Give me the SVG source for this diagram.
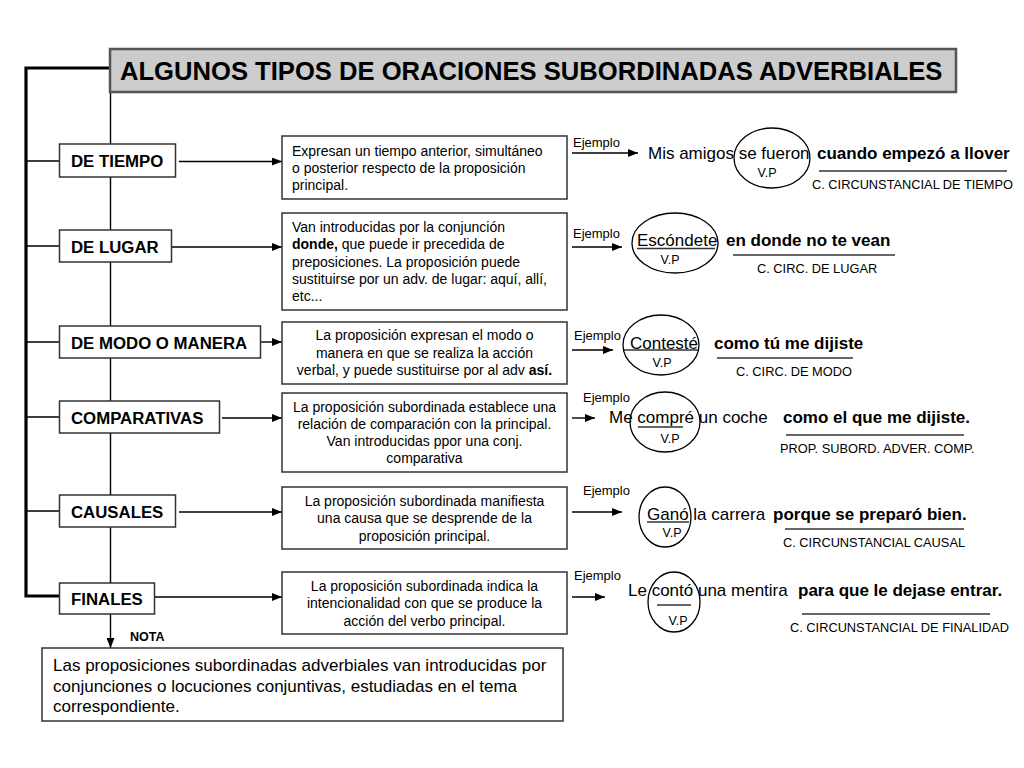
<svg xmlns="http://www.w3.org/2000/svg" width="1024" height="768" viewBox="0 0 1024 768">
<defs>
<marker id="arr" markerUnits="userSpaceOnUse" markerWidth="10" markerHeight="8" refX="10" refY="4" orient="auto">
<path d="M0,0 L10,4 L0,8 z" fill="#000"/>
</marker>
<style>
text{font-family:"Liberation Sans",Arial,sans-serif;fill:#000}
.box{fill:#fff;stroke:#333;stroke-width:1.5}
.cat{font-size:16.8px;font-weight:bold}
.desc{font-size:14px}
.c{text-anchor:middle}
.ej{font-size:13px}
.ex{font-size:17px}
.b{font-weight:bold}
.lab{font-size:12.8px}
.vp{font-size:12.5px;text-anchor:middle}
.ln{stroke:#000;stroke-width:1.4;fill:none}
.ul{stroke:#333;stroke-width:1.3;fill:none}
.ell{fill:none;stroke:#000;stroke-width:1.3}
</style>
</defs>
<rect width="1024" height="768" fill="#fff"/>

<g id="connectors">
<path d="M110,68 H26 V596 H60" fill="none" stroke="#000" stroke-width="3.2"/>
<path class="ln" d="M26,161 H60 M26,246 H60 M26,342 H60 M26,417 H60 M26,511 H60"/>
<line class="ln" x1="110.5" y1="92" x2="110.5" y2="648" marker-end="url(#arr)"/>
<line class="ln" x1="179" y1="161.5" x2="282" y2="161.5" marker-end="url(#arr)"/>
<line class="ln" x1="172" y1="247" x2="282" y2="247" marker-end="url(#arr)"/>
<line class="ln" x1="256" y1="342" x2="282" y2="342" marker-end="url(#arr)"/>
<line class="ln" x1="222" y1="418" x2="282" y2="418" marker-end="url(#arr)"/>
<line class="ln" x1="179" y1="512" x2="282" y2="512" marker-end="url(#arr)"/>
<line class="ln" x1="155" y1="597" x2="282" y2="597" marker-end="url(#arr)"/>
<line class="ln" x1="572" y1="153" x2="638" y2="153" marker-end="url(#arr)"/>
<line class="ln" x1="572" y1="247" x2="622" y2="247" marker-end="url(#arr)"/>
<line class="ln" x1="572" y1="350" x2="613" y2="350" marker-end="url(#arr)"/>
<line class="ln" x1="572" y1="418" x2="595" y2="418" marker-end="url(#arr)"/>
<line class="ln" x1="572" y1="512" x2="622" y2="512" marker-end="url(#arr)"/>
<line class="ln" x1="572" y1="597" x2="605" y2="597" marker-end="url(#arr)"/>
</g>

<g id="title">
<rect x="110" y="49" width="846" height="43" fill="#cccccc" stroke="#555" stroke-width="2.5"/>
<text x="120" y="80" font-size="25.6" font-weight="bold">ALGUNOS TIPOS DE ORACIONES SUBORDINADAS ADVERBIALES</text>
</g>

<g id="cat-tiempo"><rect class="box" x="59.5" y="144" width="116" height="33"/><text class="cat" x="71" y="167">DE TIEMPO</text></g>
<g id="cat-lugar"><rect class="box" x="59.5" y="230" width="112" height="32"/><text class="cat" x="71" y="252.5">DE LUGAR</text></g>
<g id="cat-modo"><rect class="box" x="59.5" y="326" width="201" height="32"/><text class="cat" x="71" y="348.5">DE MODO O MANERA</text></g>
<g id="cat-comparativas"><rect class="box" x="59.5" y="401" width="160" height="32"/><text class="cat" x="71" y="423.5">COMPARATIVAS</text></g>
<g id="cat-causales"><rect class="box" x="59.5" y="495" width="116" height="32"/><text class="cat" x="71" y="517.5">CAUSALES</text></g>
<g id="cat-finales"><rect class="box" x="59.5" y="583" width="95" height="31"/><text class="cat" x="71" y="604.5">FINALES</text></g>

<g id="desc-tiempo"><rect class="box" x="282" y="136" width="285" height="63"/>
<text class="desc" x="292"><tspan x="292" y="156">Expresan un tiempo anterior, simultáneo</tspan><tspan x="292" y="173">o posterior respecto de la proposición</tspan><tspan x="292" y="190">principal.</tspan></text></g>

<g id="desc-lugar"><rect class="box" x="282" y="213" width="285" height="97"/>
<text class="desc" x="292"><tspan x="292" y="232">Van introducidas por la conjunción</tspan><tspan x="292" y="249"><tspan font-weight="bold">donde,</tspan> que puede ir precedida de</tspan><tspan x="292" y="266.5">preposiciones. La proposición puede</tspan><tspan x="292" y="284">sustituirse por un adv. de lugar: aquí, allí,</tspan><tspan x="292" y="301">etc...</tspan></text></g>

<g id="desc-modo"><rect class="box" x="282" y="322" width="285" height="62"/>
<text class="desc c"><tspan x="424.5" y="340">La proposición expresan el modo o</tspan><tspan x="424.5" y="357.5">manera en que se realiza la acción</tspan><tspan x="424.5" y="375">verbal, y puede sustituirse por al adv <tspan font-weight="bold">así.</tspan></tspan></text></g>

<g id="desc-comparativas"><rect class="box" x="282" y="393" width="285" height="79"/>
<text class="desc c"><tspan x="424.5" y="411.5">La proposición subordinada establece una</tspan><tspan x="424.5" y="428.5">relación de comparación con la principal.</tspan><tspan x="424.5" y="446">Van introducidas ppor una conj.</tspan><tspan x="424.5" y="463">comparativa</tspan></text></g>

<g id="desc-causales"><rect class="box" x="282" y="487" width="285" height="62"/>
<text class="desc c"><tspan x="424.5" y="506">La proposición subordinada manifiesta</tspan><tspan x="424.5" y="523">una causa que se desprende de la</tspan><tspan x="424.5" y="540.5">proposición principal.</tspan></text></g>

<g id="desc-finales"><rect class="box" x="282" y="572" width="285" height="62"/>
<text class="desc c"><tspan x="424.5" y="591">La proposición subordinada indica la</tspan><tspan x="424.5" y="608">intencionalidad con que se produce la</tspan><tspan x="424.5" y="625.5">acción del verbo principal.</tspan></text></g>

<g id="ej-tiempo">
<text class="ej" x="573" y="147">Ejemplo</text>
<text class="ex" x="648" y="159">Mis amigos se fueron</text>
<text class="ex b" x="817" y="159">cuando empezó a llover</text>
<ellipse class="ell" cx="772" cy="158" rx="38" ry="30"/>
<text class="vp" x="767" y="177">V.P</text>
<line class="ul" x1="819" y1="171" x2="1007" y2="171"/>
<text class="lab" x="812" y="189">C. CIRCUNSTANCIAL DE TIEMPO</text>
</g>

<g id="ej-lugar">
<text class="ej" x="573" y="238">Ejemplo</text>
<text class="ex" x="637" y="246">Escóndete</text>
<line class="ul" x1="637" y1="248.5" x2="715" y2="248.5"/>
<ellipse class="ell" cx="675" cy="243" rx="43" ry="30"/>
<text class="vp" x="670" y="264">V.P</text>
<text class="ex b" x="726" y="246">en donde no te vean</text>
<line class="ul" x1="733" y1="255" x2="895" y2="255"/>
<text class="lab" x="757" y="273">C. CIRC. DE LUGAR</text>
</g>

<g id="ej-modo">
<text class="ej" x="574" y="340">Ejemplo</text>
<text class="ex" x="630" y="349">Contesté</text>
<line class="ul" x1="623" y1="350" x2="698" y2="350"/>
<ellipse class="ell" cx="661" cy="345" rx="38" ry="30"/>
<text class="vp" x="662" y="367">V.P</text>
<text class="ex b" x="714" y="349">como tú me dijiste</text>
<line class="ul" x1="717" y1="358" x2="853" y2="358"/>
<text class="lab" x="736" y="376">C. CIRC. DE MODO</text>
</g>

<g id="ej-comparativas">
<text class="ej" x="583" y="402">Ejemplo</text>
<text class="ex" x="609" y="423">Me compré un coche</text>
<line class="ul" x1="638" y1="427" x2="683" y2="427"/>
<ellipse class="ell" cx="665" cy="422" rx="35" ry="30"/>
<text class="vp" x="670" y="443">V.P</text>
<text class="ex b" x="783" y="423">como el que me dijiste.</text>
<line class="ul" x1="786" y1="435" x2="964" y2="435"/>
<text class="lab" x="780" y="453">PROP. SUBORD. ADVER. COMP.</text>
</g>

<g id="ej-causales">
<text class="ej" x="583" y="495">Ejemplo</text>
<text class="ex" x="647" y="520">Ganó la carrera</text>
<line class="ul" x1="647" y1="522" x2="689" y2="522"/>
<ellipse class="ell" cx="665" cy="517" rx="26" ry="30"/>
<text class="vp" x="672" y="537">V.P</text>
<text class="ex b" x="773" y="520">porque se preparó bien.</text>
<line class="ul" x1="785" y1="529" x2="964" y2="529"/>
<text class="lab" x="783" y="547">C. CIRCUNSTANCIAL CAUSAL</text>
</g>

<g id="ej-finales">
<text class="ej" x="574" y="580">Ejemplo</text>
<text class="ex" x="628" y="596">Le contó una mentira</text>
<line class="ul" x1="657" y1="605" x2="691" y2="605"/>
<ellipse class="ell" cx="674" cy="602" rx="26" ry="30"/>
<text class="vp" x="678" y="625">V.P</text>
<text class="ex b" x="798" y="596">para que le dejase entrar.</text>
<line class="ul" x1="802" y1="614" x2="990" y2="614"/>
<text class="lab" x="790" y="632">C. CIRCUNSTANCIAL DE FINALIDAD</text>
</g>

<g id="nota">
<text x="130" y="641" font-size="12.5" font-weight="bold">NOTA</text>
<rect class="box" x="42" y="648" width="521" height="73"/>
<text font-size="17"><tspan x="53" y="671">Las proposiciones subordinadas adverbiales van introducidas por</tspan><tspan x="53" y="691.5">conjunciones o locuciones conjuntivas, estudiadas en el tema</tspan><tspan x="53" y="712">correspondiente.</tspan></text>
</g>
</svg>
